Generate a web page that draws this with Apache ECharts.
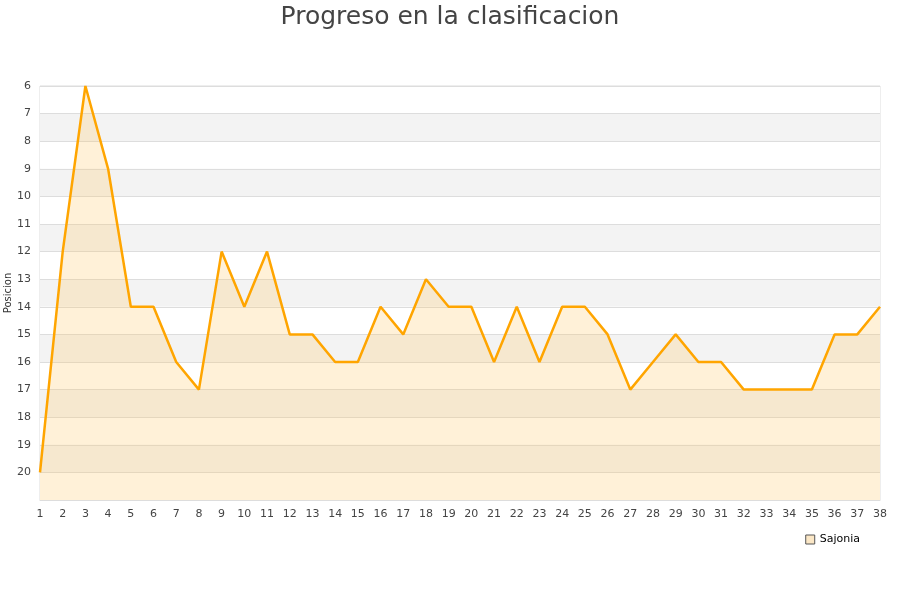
<!DOCTYPE html>
<html>
<head>
<meta charset="utf-8">
<script src="https://cdn.jsdelivr.net/npm/echarts@6/dist/echarts.min.js"></script>
<style>
  html, body { margin: 0; padding: 0; background: #fff; }
  #chart { width: 900px; height: 600px; }
</style>
</head>
<body>
<div id="chart"></div>
<script>
var jornadas = [];
for (var i = 1; i <= 38; i++) jornadas.push(String(i));
var posiciones = [20, 12, 6, 9, 14, 14, 16, 17, 12, 14, 12, 15, 15, 16, 16, 14, 15, 13, 14, 14,
                  16, 14, 16, 14, 14, 15, 17, 16, 15, 16, 16, 17, 17, 17, 17, 15, 15, 14];
var equipo = 'Sajonia';

var chart = echarts.init(document.getElementById('chart'));
var option = {
    backgroundColor: '#fff',
    title: {
        text: 'Progreso en la clasificacion',
        left: 'center',
        top: 0,
        textStyle: { fontFamily: 'DejaVu Sans', fontSize: 25, fontWeight: 'normal', color: '#444' }
    },
    legend: {
        data: [equipo],
        right: 35,
        top: 529,
        itemWidth: 9,
        itemHeight: 9,
        itemGap: 8,
        icon: 'rect',
        textStyle: { fontFamily: 'DejaVu Sans', fontSize: 11, color: '#000' },
        itemStyle: { color: '#fbe7c6', borderColor: '#555', borderWidth: 1 }
    },
    grid: {
        left: 40, right: 20, top: 86, bottom: 100,
        outerBoundsMode: 'none',
        containLabel: false,
        show: true, borderColor: '#ddd', borderWidth: 1
    },
    xAxis: {
        type: 'category',
        data: jornadas,
        boundaryGap: false,
        axisLine: { lineStyle: { color: '#ddd' } },
        axisTick: { show: false },
        axisLabel: { interval: 0, color: '#444', fontFamily: 'DejaVu Sans', fontSize: 11, margin: 9 },
        splitLine: { show: false }
    },
    yAxis: {
        type: 'value',
        inverse: true,
        min: 6,
        max: 21,
        interval: 1,
        name: 'Posicion',
        nameLocation: 'middle',
        nameGap: 27,
        nameMoveOverlap: false,
        nameTextStyle: { color: '#333', fontFamily: 'DejaVu Sans', fontSize: 10 },
        axisLine: { show: false },
        axisTick: { show: false },
        axisLabel: {
            color: '#444', fontFamily: 'DejaVu Sans', fontSize: 11, margin: 9,
            formatter: function (v) { return v === 21 ? '' : v; }
        },
        splitLine: { lineStyle: { color: '#ddd' } },
        splitArea: { show: true, areaStyle: { color: ['#fff', '#f3f3f3'] } }
    },
    series: [{
        name: equipo,
        type: 'line',
        data: posiciones,
        symbol: 'none',
        lineStyle: { color: '#ffa500', width: 2.5 },
        itemStyle: { color: '#fbe7c6' },
        areaStyle: { color: 'rgba(255,195,90,0.34)', origin: 'end' }
    }]
};
chart.setOption(option);
</script>
</body>
</html>
